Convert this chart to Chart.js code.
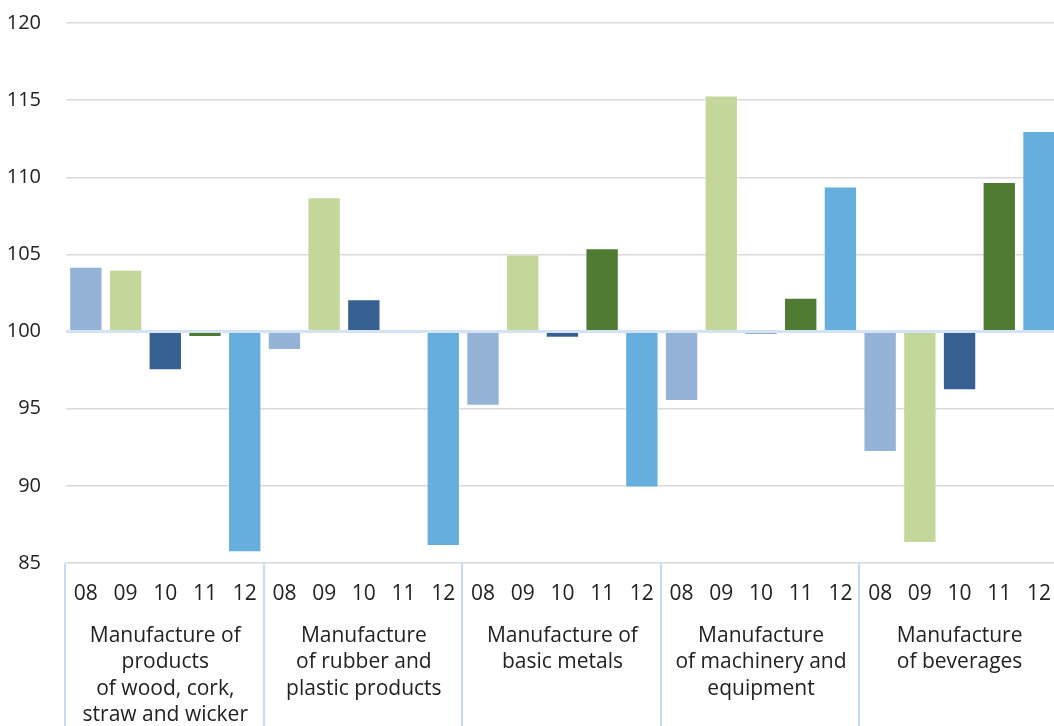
<!DOCTYPE html>
<html lang="en">
<head>
<meta charset="UTF-8">
<title>Production index by industry</title>
<script src="https://cdn.jsdelivr.net/npm/chart.js"></script>
<style>
  body { margin: 0; overflow: hidden; background: #fff; }
</style>
</head>
<body>
<canvas id="grafico" width="1061" height="726"></canvas>
<script>
// years shown under every bar
const years = ['08', '09', '10', '11', '12'];

// industry groups (one label per 5 bars, already split in lines)
const groups = [
  ['Manufacture of', 'products', 'of wood, cork,', 'straw and wicker'],
  ['Manufacture', 'of rubber and', 'plastic products'],
  ['Manufacture of', 'basic metals'],
  ['Manufacture', 'of machinery and', 'equipment'],
  ['Manufacture', 'of beverages']
];

// index values, 08..12 for each group (base = 100)
const wood = [104.2, 104.0, 97.5, 99.65, 85.7];
const rubber = [98.8, 108.7, 102.1, null, 86.1];
const metals = [95.2, 105.0, 99.6, 105.4, 89.9];
const machinery = [95.5, 115.3, 99.85, 102.2, 109.4];
const beverages = [92.2, 86.3, 96.2, 109.7, 113.0];

const yTicks = { min: 85, max: 120, step: 5 };

const yearColors = ['#95B3D7', '#C4D79B', '#366092', '#4F7B33', '#66AEDE'];
const fonte = "'Open Sans', 'Noto Sans', sans-serif";

let labels = [];
let values = [];
let colors = [];
[wood, rubber, metals, machinery, beverages].forEach(function (serie) {
  for (let i = 0; i < serie.length; i++) {
    labels.push(years[i]);
    values.push(serie[i]);
    colors.push(yearColors[i]);
  }
});

// separators + group names under the year labels
const groupLabels = {
  id: 'groupLabels',
  afterDraw(chart) {
    const ctx = chart.ctx;
    const x = chart.scales.x;
    const area = chart.chartArea;
    const w = x.width / groups.length;
    ctx.save();
    ctx.strokeStyle = '#C6DBEF';
    ctx.lineWidth = 2;
    for (let i = 0; i <= groups.length; i++) {
      const px = Math.round(x.left + i * w) - 1;
      ctx.beginPath();
      ctx.moveTo(px, area.bottom);
      ctx.lineTo(px, chart.height);
      ctx.stroke();
    }
    ctx.fillStyle = '#222';
    ctx.font = '21px ' + fonte;
    ctx.textAlign = 'center';
    ctx.textBaseline = 'middle';
    groups.forEach(function (linhas, g) {
      const cx = x.left + (g + 0.5) * w;
      linhas.forEach(function (txt, j) {
        ctx.fillText(txt, cx, area.bottom + 73 + j * 26.5);
      });
    });
    ctx.restore();
  }
};

new Chart(document.getElementById('grafico'), {
  type: 'bar',
  data: {
    labels: labels,
    datasets: [{
      data: values,
      base: 100,
      backgroundColor: colors,
      borderColor: 'rgba(255,255,255,0.45)',
      borderWidth: 1,
      barPercentage: 0.84,
      categoryPercentage: 1
    }]
  },
  options: {
    responsive: false,
    animation: false,
    layout: { padding: { top: 23, right: 0, bottom: 0, left: 0 } },
    plugins: { legend: { display: false }, tooltip: { enabled: false } },
    scales: {
      x: {
        grid: { display: false },
        border: { display: false },
        ticks: { color: '#222', font: { size: 21, family: fonte }, padding: 10, maxRotation: 0, autoSkip: false },
        afterFit: function (s) { s.height = 163; }
      },
      y: {
        min: yTicks.min,
        max: yTicks.max,
        border: { display: false },
        // invisible tick marks give the gap between labels and plot
        // (ticks.padding would also push the plot down)
        grid: {
          drawTicks: true,
          tickLength: 25,
          tickColor: 'rgba(0,0,0,0)',
          color: function (c) { return c.tick && c.tick.value === 100 ? '#D3E3F3' : '#D9D9D9'; },
          lineWidth: function (c) { return c.tick && c.tick.value === 100 ? 3 : 1.5; }
        },
        ticks: { stepSize: yTicks.step, color: '#222', font: { size: 20, family: fonte }, padding: 0 },
        afterFit: function (s) { s.width = 66; }
      }
    }
  },
  plugins: [groupLabels]
});
</script>
</body>
</html>
